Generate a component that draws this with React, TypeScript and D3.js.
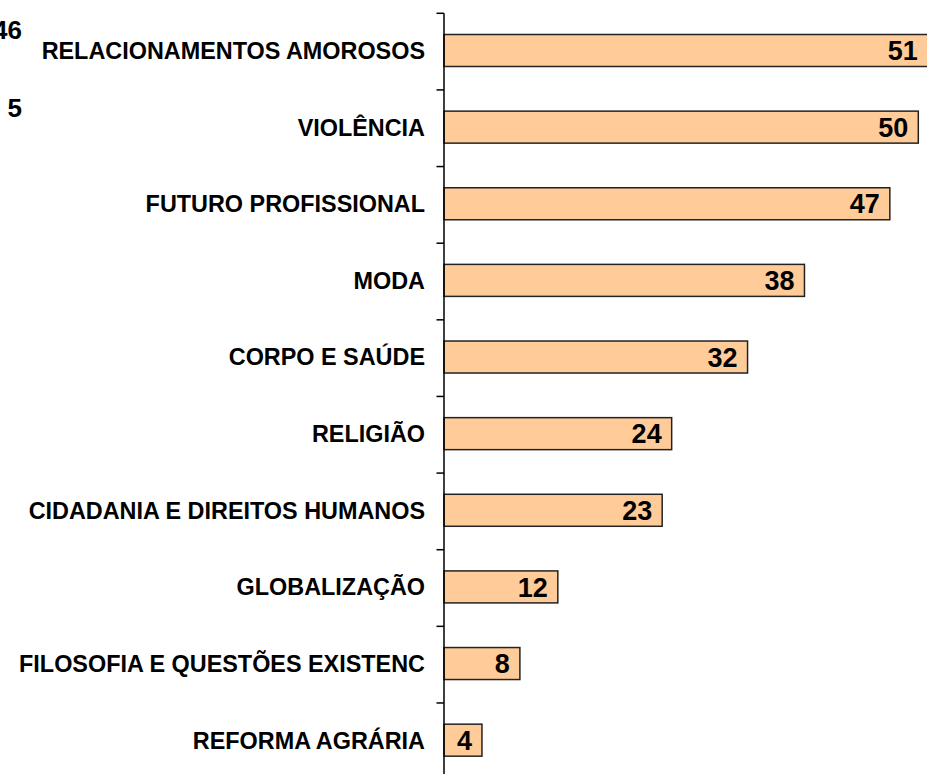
import React from "react";
import * as d3 from "d3";

const categories = [
  "RELACIONAMENTOS AMOROSOS",
  "VIOLÊNCIA",
  "FUTURO PROFISSIONAL",
  "MODA",
  "CORPO E SAÚDE",
  "RELIGIÃO",
  "CIDADANIA E DIREITOS HUMANOS",
  "GLOBALIZAÇÃO",
  "FILOSOFIA E QUESTÕES EXISTENC",
  "REFORMA AGRÁRIA",
];
const values = [51, 50, 47, 38, 32, 24, 23, 12, 8, 4];
const clippedLabels = ["46", "5"];

const W = 927;
const H = 774;
const axisX = 444;
const top = 13.3;
const step = 76.63;
const barH = 32;
const barOffset = 37.2;

export default function App() {
  const y = d3
    .scaleBand<string>()
    .domain(categories)
    .range([top, top + step * categories.length])
    .paddingInner(0)
    .paddingOuter(0);
  const x = d3.scaleLinear().domain([0, 50]).range([axisX, 918.3]);
  const font = "'Liberation Sans', Arial, Helvetica, sans-serif";

  return (
    <svg
      width={W}
      height={H}
      style={{ position: "absolute", left: 0, top: 0, background: "#fff" }}
      fontFamily={font}
    >
      <rect x={0} y={0} width={W} height={H} fill="#fff" />
      {/* stray labels from a neighbouring chart, clipped at the left edge as in the reference */}
      {clippedLabels.map((t, i) => (
        <text
          key={t}
          x={22}
          y={38.5 + i * 78}
          textAnchor="end"
          fontSize={26}
          fontWeight="bold"
          fill="#000"
        >
          {t}
        </text>
      ))}
      {/* bars */}
      {categories.map((c, i) => {
        const cy = (y(c) as number) + barOffset;
        return (
          <g key={c}>
            <rect
              x={x(0)}
              y={cy - barH / 2}
              width={x(values[i]) - x(0)}
              height={barH}
              fill="#FFCC99"
              stroke="#222"
              strokeWidth={1.5}
            />
            <text
              x={x(values[i]) - 10}
              y={cy}
              dy="0.36em"
              textAnchor="end"
              fontSize={27}
              fontWeight="bold"
              fill="#000"
            >
              {values[i]}
            </text>
            <text
              x={425}
              y={cy}
              dy="0.36em"
              textAnchor="end"
              fontSize={23.4}
              fontWeight="bold"
              fill="#000"
            >
              {c}
            </text>
          </g>
        );
      })}
      {/* axis */}
      <line x1={axisX} x2={axisX} y1={top} y2={H} stroke="#000" strokeWidth={1.5} />
      {categories.map((c) => (
        <line
          key={"t" + c}
          x1={axisX - 7.5}
          x2={axisX}
          y1={y(c) as number}
          y2={y(c) as number}
          stroke="#000"
          strokeWidth={1.5}
        />
      ))}
    </svg>
  );
}
